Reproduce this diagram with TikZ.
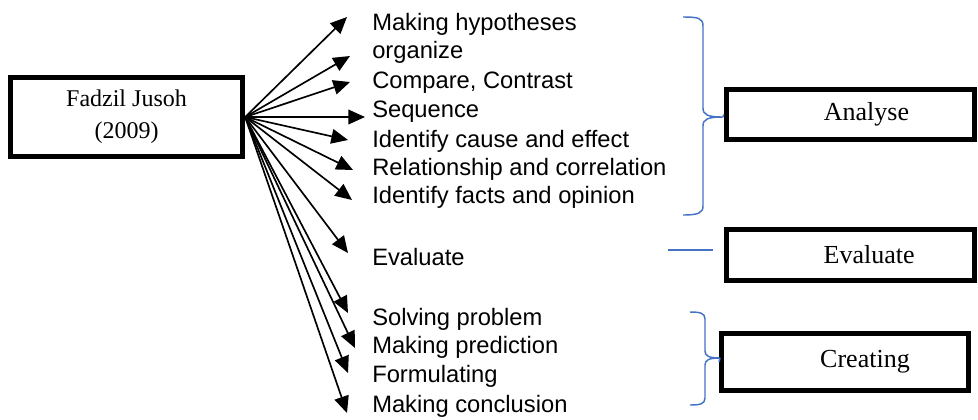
\documentclass[tikz,border=0pt]{standalone}
\usepackage{fontspec}
\setmainfont{Liberation Serif}
\newfontfamily\arialfont{Liberation Sans}
\usepackage{xcolor}
\usepackage{tikz}
\usetikzlibrary{arrows.meta, positioning, calc}
\definecolor{brblue}{RGB}{68,114,196}
\definecolor{bxdark}{RGB}{0,0,0}

\begin{document}
\begin{tikzpicture}[x=0.75pt, y=-0.75pt,
  box/.style={draw=bxdark, line width=4pt, inner sep=0pt, fill=white},
  item/.style={anchor=base west, inner sep=0pt, font=\arialfont\fontsize{17.8}{20}\selectfont},
  arr/.style={line width=1.25pt, -{Triangle[length=12.5pt, width=11pt]}},
  brace/.style={draw=brblue, line width=1.1pt}]
\useasboundingbox (0,0) rectangle (978,419);

% ---- source ----
\node[box, minimum width=174pt, minimum height=59pt, align=center,
      font=\fontsize{18}{24}\selectfont] (src) at (126.5,117)
  {Fadzil Jusoh\\(2009)};

% ---- sub skills with arrows ----
\foreach \i/\by/\tx/\ty/\txt in {1/30/347/17/{Making hypotheses},
                                 2/58/350/56/{organize},
                                 3/88/350/82/{Compare, Contrast},
                                 4/117/365/117/{Sequence},
                                 5/147/348/140/{Identify cause and effect},
                                 6/175/353/170/{Relationship and correlation},
                                 7/203/352/200/{Identify facts and opinion},
                                 8/265/348/253/{Evaluate},
                                 9/325/348/313/{Solving problem},
                                 10/353/355/348/{Making prediction},
                                 11/382/348/373/{Formulating},
                                 12/412/347/413/{Making conclusion}}{
  \node[item] (it\i) at (372,\by) {\txt};
  \coordinate (tip\i) at (\tx,\ty);
  \draw[arr] (src.east) -- (tip\i);
}

% ---- categories ----
\node[box, minimum width=186pt, minimum height=37.5pt,
      font=\fontsize{19.5}{24}\selectfont] (analyse) at (850.5,114.5)
  {\hspace*{24pt}Analyse};
\node[box, minimum width=186pt, minimum height=38pt,
      font=\fontsize{19.5}{24}\selectfont] (evaluate) at (850.5,255)
  {\hspace*{28pt}Evaluate};
\node[box, minimum width=185pt, minimum height=43pt,
      font=\fontsize{19.5}{24}\selectfont] (creating) at (845,362)
  {\hspace*{30pt}Creating};

% ---- braces ----
\coordinate (bA) at (723,117);
\draw[brace] (683,17) .. controls (698,17) and (703,18) .. (703,26)
  -- (703,108) .. controls (703,115) and (708,117) .. (bA)
  .. controls (708,117) and (703,119) .. (703,126)
  -- (703,206) .. controls (703,213) and (698,215) .. (683,215);
\draw[brace] (bA) -- (analyse.west);

\coordinate (bE) at (713,250);
\draw[brace] (668,250) -- (bE);

\coordinate (bC) at (720,358);
\draw[brace] (690,312) .. controls (700,312) and (705,313) .. (705,319)
  -- (705,351) .. controls (705,356) and (709,358) .. (bC)
  .. controls (709,358) and (705,360) .. (705,365)
  -- (705,398) .. controls (705,404) and (700,405) .. (690,405);
\draw[brace] (bC) -- (creating.west);
\end{tikzpicture}
\end{document}
